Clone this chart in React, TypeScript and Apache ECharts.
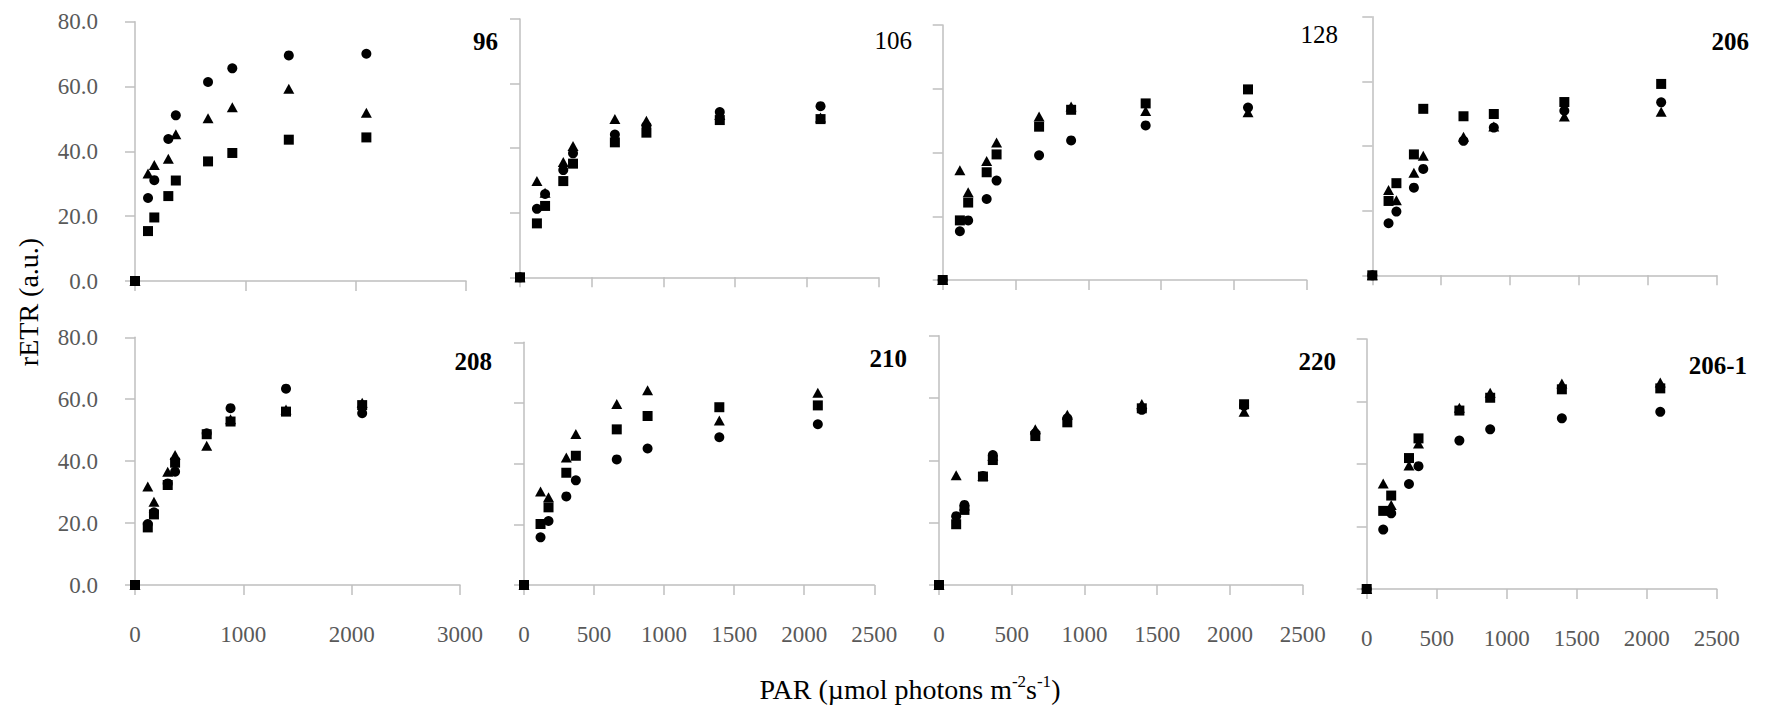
import React, { useEffect, useRef } from "react";
import * as echarts from "echarts";

// PAR levels (x values, µmol photons m-2 s-1)
const PAR = [0, 118, 175, 302, 370, 662, 882, 1394, 2097];

// rETR values per strain (circle / triangle / square series)
const c96 = [0, 25.6, 31.1, 43.8, 51.1, 61.4, 65.6, 69.6, 70.1];
const t96 = [0, 33.2, 35.8, 37.7, 45.3, 50.2, 53.6, 59.3, 51.9];
const s96 = [0, 15.4, 19.6, 26.2, 31.0, 36.9, 39.5, 43.6, 44.3];

const c106 = [0, 21.2, 25.8, 33.2, 38.4, 44.2, 46.9, 51.2, 53.0];
const t106 = [0, 29.8, 26.2, 35.7, 40.7, 49.0, 48.5, 50.3, 49.5];
const s106 = [0, 16.7, 22.1, 29.8, 35.2, 41.8, 44.8, 48.7, 49.0];

const c128 = [0, 15.3, 18.7, 25.4, 31.2, 39.1, 43.8, 48.5, 54.1];
const t128 = [0, 34.4, 27.5, 37.3, 43.1, 51.3, 54.4, 53.0, 52.6];
const s128 = [0, 18.7, 24.3, 33.8, 39.4, 48.1, 53.4, 55.4, 59.8];

const c206 = [0, 16.1, 19.7, 27.1, 32.9, 41.6, 45.7, 50.9, 53.5];
const t206 = [0, 26.4, 23.2, 31.7, 37.0, 42.9, 46.0, 49.1, 50.6];
const s206 = [0, 23.0, 28.5, 37.4, 51.5, 49.2, 49.9, 53.6, 59.2];

const c208 = [0, 19.7, 23.5, 32.8, 36.6, 49.0, 57.1, 63.4, 55.5];
const t208 = [0, 31.8, 26.9, 36.6, 42.0, 45.0, 53.5, 56.7, 58.9];
const s208 = [0, 18.6, 22.8, 32.3, 39.5, 48.7, 52.8, 56.0, 58.1];

const c210 = [0, 15.7, 21.1, 29.2, 34.5, 41.4, 45.0, 48.7, 53.0];
const t210 = [0, 30.8, 28.9, 42.0, 49.8, 59.7, 64.2, 54.2, 63.4];
const s210 = [0, 20.1, 25.6, 37.0, 42.6, 51.3, 55.7, 58.6, 59.2];

const c220 = [0, 22.1, 25.7, 35.0, 41.7, 48.7, 53.5, 56.2, 57.5];
const t220 = [0, 35.2, 25.5, 35.0, 41.5, 50.0, 54.6, 58.1, 55.6];
const s220 = [0, 19.5, 24.1, 34.8, 40.1, 47.8, 52.2, 56.7, 58.0];

const c2061 = [0, 19.0, 24.2, 33.6, 39.3, 47.5, 51.1, 54.6, 56.7];
const t2061 = [0, 33.8, 26.9, 39.5, 46.6, 58.0, 62.8, 65.8, 66.1];
const s2061 = [0, 25.0, 29.9, 41.9, 48.2, 57.1, 61.2, 63.9, 64.2];

const NAMES = ["96", "106", "128", "206", "208", "210", "220", "206-1"];
const CIRCLES = [c96, c106, c128, c206, c208, c210, c220, c2061];
const TRIANGLES = [t96, t106, t128, t206, t208, t210, t220, t2061];
const SQUARES = [s96, s106, s128, s206, s208, s210, s220, s2061];
const X_MAX = [3000, 2500, 2500, 2500, 3000, 2500, 2500, 2500];
const Y_TICKS_MAX = 80;

// layout (pixel boxes of plot areas: left, top, right, bottom)
const BOXES = [
  [135, 21.7, 466, 281],
  [520, 19, 878.3, 277.3],
  [942.7, 25, 1306.7, 280],
  [1372.3, 16.7, 1716.7, 275.3],
  [135, 337.3, 460, 585],
  [524, 342.3, 874.3, 585],
  [939, 335.7, 1302.7, 585],
  [1366.7, 339, 1716.7, 589],
];
const LABEL_POS = [
  [498, 41, true],
  [912, 40.5, false],
  [1338, 34, false],
  [1749, 41.5, true],
  [492, 361, true],
  [907, 358.5, true],
  [1336, 361.5, true],
  [1747, 365.5, true],
];

const FONT = '"Liberation Serif", "Times New Roman", serif';
const AXIS_COLOR = "#bfbfbf";
const LABEL_COLOR = "#595959";

export default function App() {
  const ref = useRef<HTMLDivElement>(null);
  useEffect(() => {
    if (!ref.current) return;
    const chart = echarts.init(ref.current, undefined, { renderer: "svg" });
    const grids: any[] = [];
    const xAxes: any[] = [];
    const yAxes: any[] = [];
    const series: any[] = [];
    const graphics: any[] = [];
    NAMES.forEach((name, i) => {
      const [l, t, r, b] = BOXES[i];
      grids.push({ left: l, top: t, width: r - l, height: b - t });
      const bottomRow = i >= 4;
      const firstCol = i % 4 === 0;
      xAxes.push({
        type: "value",
        gridIndex: i,
        min: 0,
        max: X_MAX[i],
        interval: X_MAX[i] === 3000 ? 1000 : 500,
        axisLine: { show: true, onZero: false, lineStyle: { color: AXIS_COLOR, width: 1.5 } },
        axisTick: { show: true, length: 10, lineStyle: { color: AXIS_COLOR, width: 1.5 } },
        axisLabel: {
          show: bottomRow,
          margin: 38,
          color: LABEL_COLOR,
          fontFamily: FONT,
          fontSize: 23,
          formatter: (v: number) => String(v),
        },
        splitLine: { show: false },
      });
      yAxes.push({
        type: "value",
        gridIndex: i,
        min: 0,
        max: Y_TICKS_MAX,
        interval: 20,
        axisLine: { show: true, onZero: false, lineStyle: { color: AXIS_COLOR, width: 1.5 } },
        axisTick: { show: true, length: 10, lineStyle: { color: AXIS_COLOR, width: 1.5 } },
        axisLabel: {
          show: firstCol,
          margin: 37,
          color: LABEL_COLOR,
          fontFamily: FONT,
          fontSize: 23,
          formatter: (v: number) => v.toFixed(1),
        },
        splitLine: { show: false },
      });
      const mk = (arr: number[]) => PAR.map((x, j) => [x, arr[j]]);
      const base = {
        type: "scatter",
        xAxisIndex: i,
        yAxisIndex: i,
        itemStyle: { color: "#000", opacity: 1 },
        emphasis: { disabled: true },
      };
      series.push({ ...base, symbol: "circle", symbolSize: 10, data: mk(CIRCLES[i]) });
      series.push({ ...base, symbol: "triangle", symbolSize: [11, 10], data: mk(TRIANGLES[i]) });
      series.push({ ...base, symbol: "rect", symbolSize: 10, data: mk(SQUARES[i]) });
      const [lx, ly, bold] = LABEL_POS[i] as [number, number, boolean];
      graphics.push({
        type: "text",
        x: lx,
        y: ly,
        style: {
          text: name,
          fill: "#000",
          font: `${bold ? "bold " : ""}25px ${FONT}`,
          textAlign: "right",
          textVerticalAlign: "middle",
        },
      });
    });
    graphics.push({
      type: "text",
      x: 28,
      y: 302,
      rotation: Math.PI / 2,
      style: {
        text: "rETR (a.u.)",
        fill: "#000",
        font: `28px ${FONT}`,
        textAlign: "center",
        textVerticalAlign: "middle",
      },
    });
    graphics.push({
      type: "text",
      x: 910,
      y: 688,
      style: {
        text: "{a|PAR (µmol photons m}{s|-2}{a|s}{s|-1}{a|)}",
        textAlign: "center",
        textVerticalAlign: "middle",
        rich: {
          a: { fontFamily: FONT, fontSize: 28, fill: "#000", lineHeight: 30, verticalAlign: "bottom" },
          s: { fontFamily: FONT, fontSize: 17, fill: "#000", lineHeight: 30, verticalAlign: "top" },
        },
      },
    });
    chart.setOption({
      animation: false,
      backgroundColor: "#fff",
      grid: grids,
      xAxis: xAxes,
      yAxis: yAxes,
      series,
      graphic: graphics,
    });
    return () => chart.dispose();
  }, []);
  return (
    <div
      ref={ref}
      style={{ position: "fixed", left: 0, top: 0, width: 1765, height: 711, background: "#fff" }}
    />
  );
}
